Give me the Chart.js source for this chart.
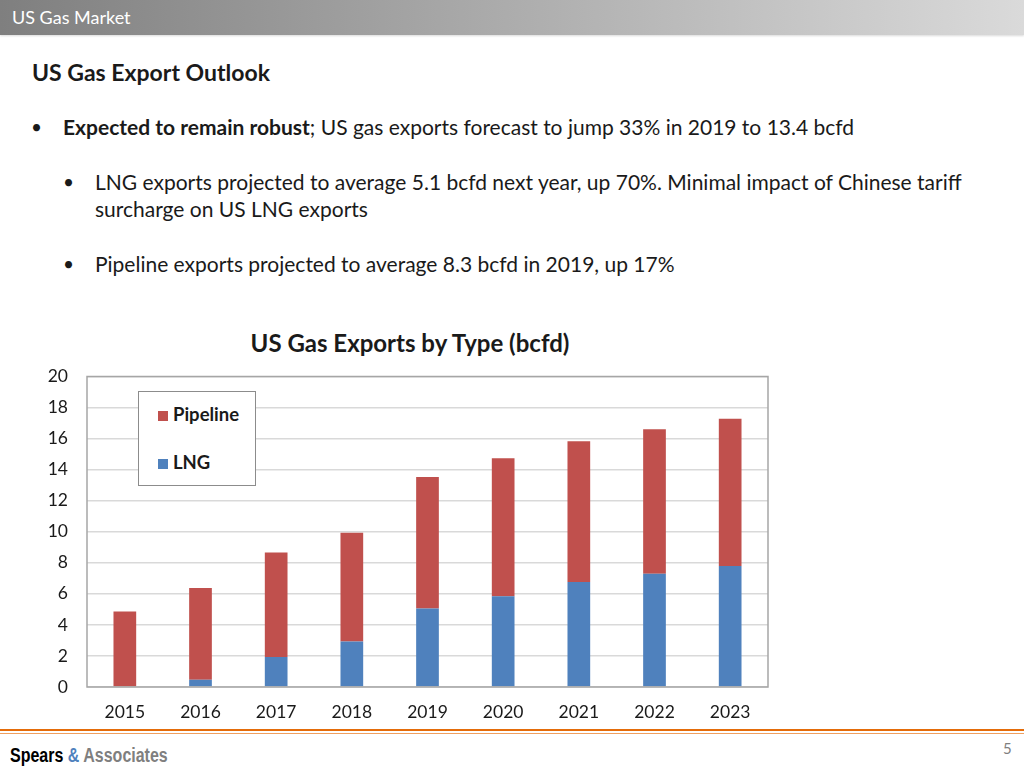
<!DOCTYPE html>
<html>
<head>
<meta charset="utf-8">
<script src="https://cdn.jsdelivr.net/npm/chart.js@4.4.0/dist/chart.umd.min.js"></script>
<style>
    body { margin: 0; width: 1024px; height: 768px; background: #fff; position: relative; overflow: hidden; font-family: Lato, "Open Sans", sans-serif; }
    .header { position: absolute; left: 0; top: 0; width: 1024px; height: 35px; background: linear-gradient(to right, #7f7f7f, #dadada); box-shadow: 0 1px 2px rgba(0,0,0,0.15); }
    .header span { position: absolute; left: 12px; top: 6px; color: #fff; font-size: 18px; }
    .title { position: absolute; left: 32px; top: 58px; font-size: 23px; font-weight: bold; color: #1a1a1a; }
    .bullet { position: absolute; font-size: 21px; color: #1a1a1a; line-height: 27px; }
    .bullet .dot { position: absolute; left: -32px; font-size: 19px; }
    .chart-title { position: absolute; left: 0; width: 820px; top: 328px; text-align: center; font-size: 24px; font-weight: bold; color: #1a1a1a; }
    #wrap { position: absolute; left: 30px; top: 347px; width: 750px; height: 393px; }
    .legend { position: absolute; left: 138px; top: 391px; width: 116px; height: 93px; border: 1px solid #8c8c8c; background: #fff; }
    .legend div { position: absolute; left: 19px; font-size: 18.5px; font-weight: bold; color: #1a1a1a; }
    .legend i { display: inline-block; width: 10px; height: 10px; margin-right: 5px; }
    .rule1 { position: absolute; left: 0; top: 729px; width: 1024px; height: 2px; background: #e46c0a; }
    .rule2 { position: absolute; left: 0; top: 733px; width: 1024px; height: 1px; background: #f0a060; }
    .logo { position: absolute; left: 10px; top: 744px; font-family: "Liberation Sans", sans-serif; font-weight: bold; font-size: 20px; transform: scaleX(0.8); transform-origin: left top; white-space: nowrap; }
    .page { position: absolute; left: 1003px; top: 739px; font-size: 15px; color: #7f7f7f; }
</style>
</head>
<body>
<div class="header"><span>US Gas Market</span></div>
<div class="title">US Gas Export Outlook</div>
<div class="bullet" style="left:63px; top:113px;"><span class="dot">•</span><b>Expected to remain robust</b>; US gas exports forecast to jump 33% in 2019 to 13.4 bcfd</div>
<div class="bullet" style="left:95px; top:168px; width:920px;"><span class="dot">•</span>LNG exports projected to average 5.1 bcfd next year, up 70%. Minimal impact of Chinese tariff<br>surcharge on US LNG exports</div>
<div class="bullet" style="left:95px; top:250px;"><span class="dot">•</span>Pipeline exports projected to average 8.3 bcfd in 2019, up 17%</div>
<div class="chart-title">US Gas Exports by Type (bcfd)</div>
<div id="wrap"><canvas id="gas-exports"></canvas></div>
<div class="legend" id="legend"></div>
<div class="rule1"></div>
<div class="rule2"></div>
<div class="logo"><span style="color:#000">Spears</span> <span style="color:#4f81bd">&amp;</span> <span style="color:#7f7f7f">Associates</span></div>
<div class="page">5</div>

<script>
    "use strict";

    var years = ["2015", "2016", "2017", "2018", "2019", "2020", "2021", "2022", "2023"];
    var lng = [0.05, 0.47, 1.93, 2.93, 5.05, 5.84, 6.76, 7.29, 7.79];
    var pipeline = [4.81, 5.9, 6.73, 7.0, 8.47, 8.9, 9.07, 9.31, 9.49];
    var yTicks = [0, 2, 4, 6, 8, 10, 12, 14, 16, 18, 20];

    // Plot frame
    var frame = {
        id: 'frame',
        afterDraw: function (chart) {
            var a = chart.chartArea, c = chart.ctx;
            c.save();
            c.strokeStyle = '#a6a6a6';
            c.lineWidth = 1.5;
            c.strokeRect(a.left, a.top, a.right - a.left, a.bottom - a.top);
            c.restore();
        }
    };

    var ctx = document.getElementById('gas-exports').getContext('2d');
    var chart = new Chart(ctx, {
        type: 'bar',
        data: {
            labels: years,
            datasets: [{
                    label: 'LNG',
                    data: lng,
                    backgroundColor: '#4f81bd'
                },
                {
                    label: 'Pipeline',
                    data: pipeline,
                    backgroundColor: '#c0504d'
                }
            ]
        },
        options: {
            responsive: true,
            maintainAspectRatio: false,
            animation: false,
            layout: { padding: { top: 2, right: 12, bottom: 0, left: 0 } },
            plugins: { legend: { display: false }, tooltip: { enabled: false } },
            datasets: { bar: { barPercentage: 0.6, categoryPercentage: 0.5 } },
            scales: {
                x: {
                    stacked: true,
                    grid: { display: false, drawTicks: false },
                    border: { display: false },
                    ticks: { color: '#1a1a1a', padding: 15, font: { family: 'Lato', size: 17.5 } },
                    afterFit: function (s) { s.height = 53; }
                },
                y: {
                    stacked: true,
                    min: 0,
                    max: 20,
                    afterBuildTicks: function (s) { s.ticks = yTicks.map(function (v) { return { value: v }; }); },
                    grid: { color: '#d9d9d9', lineWidth: 1.5, drawTicks: false },
                    border: { display: false },
                    ticks: { color: '#1a1a1a', padding: 19, font: { family: 'Lato', size: 17.5 } },
                    afterFit: function (s) { s.width = 57; }
                }
            }
        },
        plugins: [frame]
    });

    // Legend box, pipeline listed first
    var legend = document.getElementById('legend');
    chart.data.datasets.slice().reverse().forEach(function (ds, i) {
        var item = document.createElement('div');
        item.style.top = (i === 0 ? 11 : 59) + 'px';
        item.innerHTML = '<i style="background:' + ds.backgroundColor + '"></i>' + ds.label;
        legend.appendChild(item);
    });
</script>
</body>
</html>
